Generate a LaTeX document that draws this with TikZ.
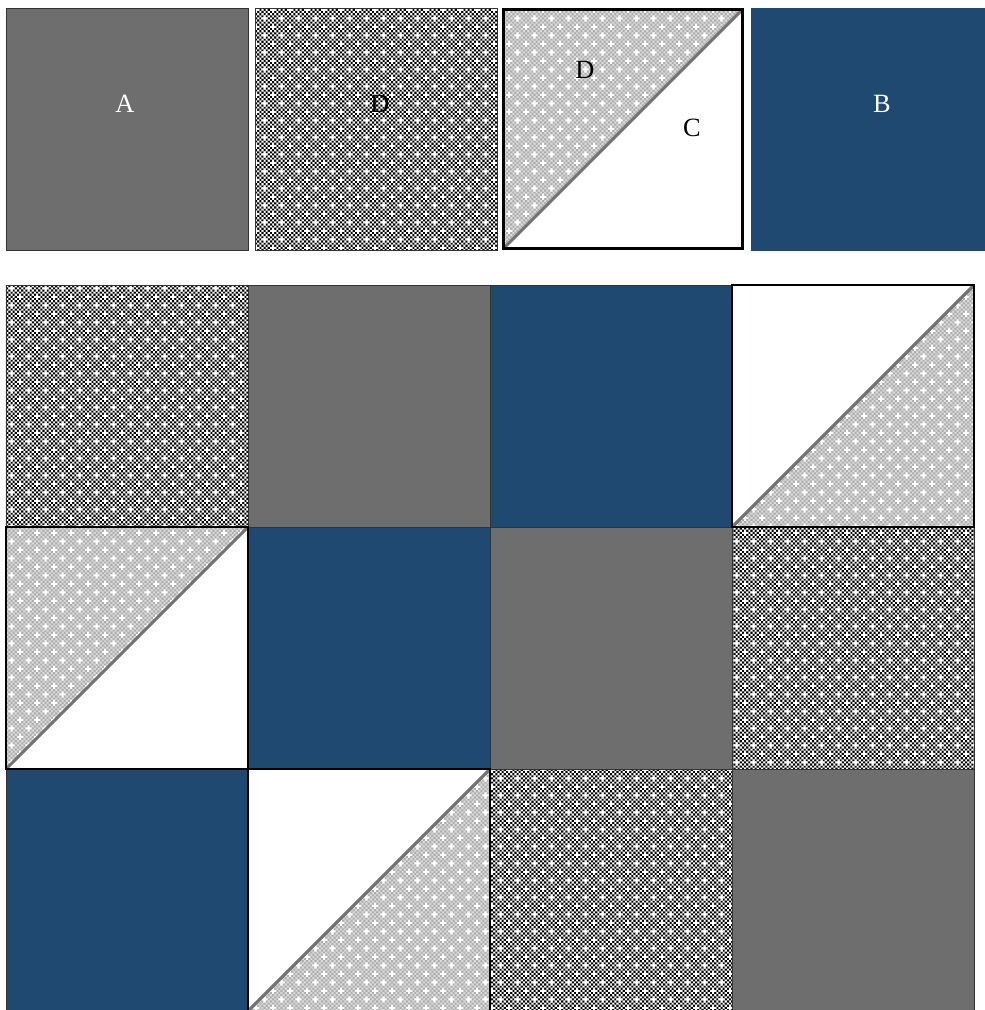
\documentclass[tikz,border=0pt]{standalone}
\usepackage{fontspec}
\setmainfont{Liberation Serif}
\usetikzlibrary{positioning,patterns}

\definecolor{quiltgray}{RGB}{110,110,110}
\definecolor{quiltblue}{RGB}{31,73,113}

\pgfdeclarepatterninherentlycolored{checkdark}
{\pgfpointorigin}{\pgfpoint{9.6pt}{9.6pt}}{\pgfpoint{9.6pt}{9.6pt}}
{
  \pgfsetfillcolor{white}
  \pgfpathrectangle{\pgfpointorigin}{\pgfpoint{9.6pt}{9.6pt}}\pgfusepath{fill}
  \pgfsetfillcolor{black}
  \foreach \i in {0,...,7}{\foreach \j in {0,...,7}{
    \pgfmathtruncatemacro{\pty}{mod(\i+\j,2)}
    \ifnum\pty=0
      \pgfpathrectangle{\pgfpoint{\i*1.2pt}{\j*1.2pt}}{\pgfpoint{1.2pt}{1.2pt}}\pgfusepath{fill}
    \fi}}
  \pgfsetfillcolor{white}
  \foreach \cx/\cy in {1/1,5/5}{
    \pgfpathrectangle{\pgfpoint{\cx*1.2pt-1.2pt}{\cy*1.2pt}}{\pgfpoint{3.6pt}{1.2pt}}\pgfusepath{fill}
    \pgfpathrectangle{\pgfpoint{\cx*1.2pt}{\cy*1.2pt-1.2pt}}{\pgfpoint{1.2pt}{3.6pt}}\pgfusepath{fill}}
}

\pgfdeclarepatterninherentlycolored{checklight}
{\pgfpointorigin}{\pgfpoint{9.6pt}{9.6pt}}{\pgfpoint{9.6pt}{9.6pt}}
{
  \pgfsetfillcolor{black!14}
  \pgfpathrectangle{\pgfpointorigin}{\pgfpoint{9.6pt}{9.6pt}}\pgfusepath{fill}
  \pgfsetfillcolor{black!32}
  \foreach \i in {0,...,7}{\foreach \j in {0,...,7}{
    \pgfmathtruncatemacro{\pty}{mod(\i+\j,2)}
    \ifnum\pty=0
      \pgfpathrectangle{\pgfpoint{\i*1.2pt}{\j*1.2pt}}{\pgfpoint{1.2pt}{1.2pt}}\pgfusepath{fill}
    \fi}}
  \pgfsetfillcolor{white}
  \foreach \cx/\cy in {1/1,5/5}{
    \pgfpathrectangle{\pgfpoint{\cx*1.2pt-1.2pt}{\cy*1.2pt}}{\pgfpoint{3.6pt}{1.2pt}}\pgfusepath{fill}
    \pgfpathrectangle{\pgfpoint{\cx*1.2pt}{\cy*1.2pt-1.2pt}}{\pgfpoint{1.2pt}{3.6pt}}\pgfusepath{fill}}
}

\begin{document}
\begin{tikzpicture}[
  font=\fontsize{15}{18}\selectfont,
  block/.style={draw=black!80,line width=0.5pt,minimum size=4.84cm,inner sep=0pt,outer sep=0pt},
  graysq/.style={block,fill=quiltgray},
  bluesq/.style={block,fill=quiltblue},
  dotsq/.style={block,pattern=checkdark},
  halfsq/.style={block,fill=white},
  diag/.style={draw=black!55,line width=1.8pt},
  edge/.style={draw=black,line width=1.4pt},
  lbl/.style={inner sep=0pt}
]
\useasboundingbox (0,0) rectangle (19.7,-20.2);

% sample blocks
\node[graysq] (tA) at (2.54,-2.58) {};
\node[dotsq] (tD) at (7.52,-2.58) {};
\node[halfsq,minimum size=4.78cm] (tH) at (12.46,-2.58) {};
\node[bluesq,draw=quiltblue] (tB) at (17.44,-2.58) {};
\fill[pattern=checklight] (tH.south west) -- (tH.north west) -- (tH.north east) -- cycle;
\draw[diag] (tH.south west) -- (tH.north east);
\draw[edge] (tH.south west) rectangle (tH.north east);
\node[lbl,text=white] (labA) at ([xshift=-0.04cm,yshift=0.5cm]tA.center) {A};
\node[lbl] (labD) at ([xshift=0.08cm,yshift=0.5cm]tD.center) {D};
\node[lbl] (labD2) at ([xshift=-0.76cm,yshift=1.18cm]tH.center) {D};
\node[lbl] (labC) at ([xshift=1.38cm,yshift=0.02cm]tH.center) {C};
\node[lbl,text=white] (labB) at ([xshift=0.2cm,yshift=0.5cm]tB.center) {B};

% quilt
\node[dotsq] (q11) at (2.54,-8.12) {};
\node[graysq,right=0cm of q11] (q12) {};
\node[bluesq,right=0cm of q12] (q13) {};
\node[halfsq,right=0cm of q13] (q14) {};
\node[halfsq,below=0cm of q11] (q21) {};
\node[bluesq,right=0cm of q21] (q22) {};
\node[graysq,right=0cm of q22] (q23) {};
\node[dotsq,right=0cm of q23] (q24) {};
\node[bluesq,below=0cm of q21] (q31) {};
\node[halfsq,right=0cm of q31] (q32) {};
\node[dotsq,right=0cm of q32] (q33) {};
\node[graysq,right=0cm of q33] (q34) {};

\foreach \q in {q14,q32}{
  \fill[pattern=checklight] (\q.south west) -- (\q.south east) -- (\q.north east) -- cycle;
  \draw[diag] (\q.south west) -- (\q.north east);
  \draw[edge] (\q.south west) rectangle (\q.north east);
}
\fill[pattern=checklight] (q21.south west) -- (q21.north west) -- (q21.north east) -- cycle;
\draw[diag] (q21.south west) -- (q21.north east);
\draw[edge] (q21.south west) rectangle (q21.north east);
\end{tikzpicture}
\end{document}
